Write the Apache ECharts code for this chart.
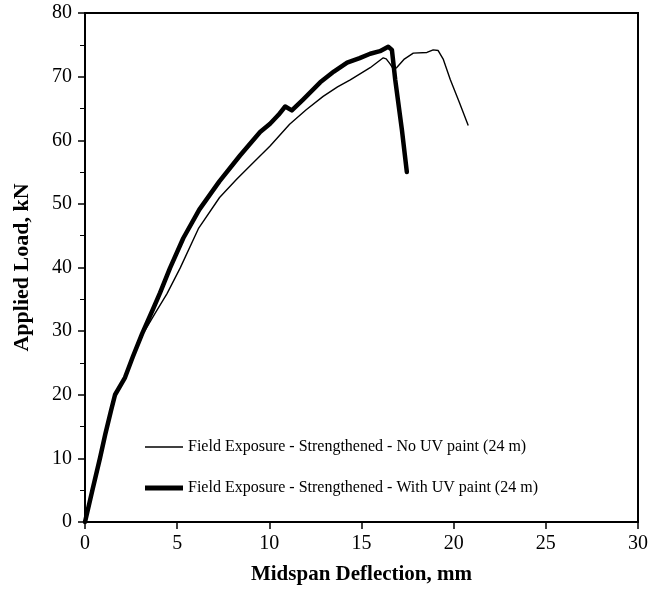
<!DOCTYPE html>
<html>
<head>
<meta charset="utf-8">
<script src="https://cdn.jsdelivr.net/npm/echarts@6/dist/echarts.min.js"></script>
<style>
  html, body { margin: 0; padding: 0; background: #fff; }
  #main { width: 665px; height: 590px; }
</style>
</head>
<body>
<div id="main"></div>
<script>
// No UV paint (thin line)
var noUvX = [0, 0.4, 0.81, 1.1, 1.41, 1.63, 2.17, 2.6, 3.17, 3.8, 4.45, 5.16, 6.15, 7.3, 8.2, 8.96, 10.04, 11.1, 12.0, 12.92, 13.7, 14.39, 15.47, 16.18, 16.34, 16.55, 16.75, 16.9, 17.3, 17.81, 18.55, 18.89, 19.16, 19.44, 19.82, 20.3, 20.79]
var noUvY = [0, 5, 10, 13.8, 17.5, 20, 22.7, 25.8, 29.7, 32.8, 35.9, 39.9, 46.1, 51.0, 53.8, 56.0, 59.1, 62.5, 64.8, 66.9, 68.4, 69.5, 71.4, 72.96, 72.8, 72.0, 71.1, 71.4, 72.7, 73.7, 73.8, 74.2, 74.1, 72.7, 69.5, 66.0, 62.3]

// With UV paint (thick line)
var uvX = [0, 0.4, 0.81, 1.1, 1.41, 1.63, 2.17, 2.6, 3.1, 3.71, 4.07, 4.61, 5.33, 6.2, 7.28, 8.41, 9.5, 10.04, 10.5, 10.86, 11.22, 11.83, 12.76, 13.5, 14.22, 14.9, 15.47, 16.0, 16.45, 16.65, 16.83, 17.19, 17.46]
var uvY = [0, 5, 10, 13.8, 17.5, 20, 22.7, 26.0, 29.6, 33.6, 36.0, 39.9, 44.6, 49.1, 53.5, 57.6, 61.3, 62.6, 64.0, 65.3, 64.7, 66.4, 69.1, 70.8, 72.2, 72.9, 73.6, 74.0, 74.7, 74.2, 69.5, 61.7, 55.0]

var seriesNames = ['Field Exposure - Strengthened - No UV paint (24 m)', 'Field Exposure - Strengthened - With UV paint (24 m)']

function pairs(xs, ys) {
  return xs.map(function (x, i) { return [x, ys[i]] })
}

var font = 'Liberation Serif, Times New Roman, serif'

var option = {
  animation: false,
  backgroundColor: '#fff',
  grid: {
    left: 85, right: 27, top: 13, bottom: 64,
    show: true, borderColor: '#000', borderWidth: 2
  },
  legend: {
    orient: 'vertical',
    left: 140,
    top: 434,
    itemWidth: 38,
    itemHeight: 16,
    itemGap: 25,
    textStyle: { fontFamily: font, fontSize: 16, color: '#000' },
    data: [
      { name: seriesNames[0], icon: 'path://M0,0H38V1.4H0Z' },
      { name: seriesNames[1], icon: 'path://M0,0H38V5H0Z' }
    ]
  },
  xAxis: {
    type: 'value',
    min: 0, max: 30, interval: 5,
    name: 'Midspan Deflection, mm',
    nameLocation: 'middle',
    nameGap: 42,
    nameTextStyle: { fontFamily: font, fontSize: 21, fontWeight: 'bold', color: '#000' },
    axisLine: { lineStyle: { color: '#000', width: 2 } },
    axisTick: { inside: false, length: 7, lineStyle: { color: '#000', width: 1.5 } },
    axisLabel: { fontFamily: font, fontSize: 20, color: '#000', margin: 12 },
    splitLine: { show: false }
  },
  yAxis: {
    type: 'value',
    min: 0, max: 80, interval: 10,
    name: 'Applied Load, kN',
    nameLocation: 'middle',
    nameGap: 52,
    nameTextStyle: { fontFamily: font, fontSize: 22, fontWeight: 'bold', color: '#000' },
    axisLine: { lineStyle: { color: '#000', width: 2 } },
    axisTick: { inside: false, length: 7, lineStyle: { color: '#000', width: 1.5 } },
    minorTick: { show: true, splitNumber: 2, length: 5, lineStyle: { color: '#000', width: 1 } },
    axisLabel: { fontFamily: font, fontSize: 20, color: '#000', margin: 13 },
    splitLine: { show: false }
  },
  series: [
    {
      name: seriesNames[0],
      type: 'line',
      symbol: 'none',
      lineStyle: { color: '#000', width: 1.4 },
      itemStyle: { color: '#000' },
      data: pairs(noUvX, noUvY)
    },
    {
      name: seriesNames[1],
      type: 'line',
      symbol: 'none',
      lineStyle: { color: '#000', width: 4.5, cap: 'round', join: 'round' },
      itemStyle: { color: '#000' },
      data: pairs(uvX, uvY)
    }
  ]
}

var myChart = echarts.init(document.getElementById('main'))
myChart.setOption(option)
</script>
</body>
</html>
